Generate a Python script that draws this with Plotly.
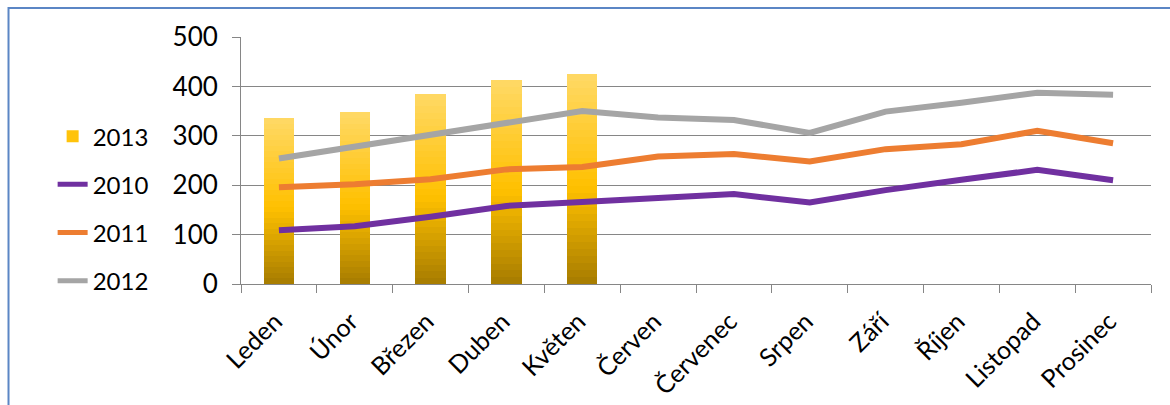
import plotly.graph_objects as go

months = ["Leden", "Únor", "Březen", "Duben", "Květen", "Červen",
          "Červenec", "Srpen", "Září", "Říjen", "Listopad", "Prosinec"]
y2013 = [336, 348, 385, 413, 425]
y2010 = [109, 117, 136, 158, 166, 175, 182, 165, 190, 211, 231, 210]
y2011 = [196, 202, 212, 232, 237, 258, 263, 248, 273, 283, 310, 285]
y2012 = [254, 278, 300, 327, 350, 337, 332, 306, 349, 367, 387, 383]
yticks = [0, 100, 200, 300, 400, 500]

FONT = "Lato, 'Liberation Sans', sans-serif"
GRID = "#868686"

# gradient stops for the bar fill (fraction from bottom, rgb)
stops = [(0.0, (166, 124, 0)), (0.46, (255, 192, 0)), (1.0, (255, 217, 102))]


def grad_color(f):
    for (f0, c0), (f1, c1) in zip(stops[:-1], stops[1:]):
        if f0 <= f <= f1:
            t = (f - f0) / (f1 - f0)
            c = [round(a + (b - a) * t) for a, b in zip(c0, c1)]
            return "rgb(%d,%d,%d)" % tuple(c)
    return "rgb(%d,%d,%d)" % stops[-1][1]


fig = go.Figure()

N = 30
bar_x = months[:len(y2013)]
for i in range(N):
    f = (i + 0.5) / N
    fig.add_trace(go.Bar(
        x=bar_x, y=[v / N for v in y2013], name="2013",
        marker=dict(color=grad_color(f), line=dict(width=0)),
        legendgroup="2013", showlegend=(i == N // 2), legendrank=1,
        hoverinfo="skip",
    ))

for name, ys, col, rank in [("2010", y2010, "#7030a0", 2),
                            ("2011", y2011, "#ed7d31", 3),
                            ("2012", y2012, "#a5a5a5", 4)]:
    fig.add_trace(go.Scatter(
        x=months, y=ys, name=name, mode="lines",
        line=dict(color=col, width=6),
        legendgroup=name, legendrank=rank,
    ))

fig.update_layout(
    width=1170, height=405,
    margin=dict(l=241, r=19, t=37, b=121, autoexpand=False),
    paper_bgcolor="white", plot_bgcolor="white",
    barmode="stack", bargap=0.6,
    font=dict(family=FONT, size=24, color="#000000"),
    legend=dict(x=-0.207, xanchor="left", y=0.688, yanchor="top",
                font=dict(size=24, family=FONT), tracegroupgap=14,
                bgcolor="rgba(0,0,0,0)", itemsizing="constant"),
    xaxis=dict(type="category", categoryorder="array", categoryarray=months,
               range=[-0.5, len(months) - 0.5],
               tickangle=-45, showline=True,
               linecolor=GRID, linewidth=1, ticks="outside",
               tickson="boundaries", ticklen=8, tickcolor=GRID,
               showgrid=False, automargin=False,
               ticklabelstandoff=12, ticklabelshift=-4,
               tickfont=dict(size=25, family=FONT)),
    yaxis=dict(range=[0, 500], tickvals=yticks, showline=True,
               linecolor=GRID, linewidth=1, ticks="outside", ticklen=8,
               tickcolor=GRID, gridcolor=GRID, gridwidth=1,
               ticklabelstandoff=9, automargin=False,
               zeroline=False, tickfont=dict(size=26, family=FONT)),
    shapes=[dict(type="rect", xref="paper", yref="paper",
                 x0=(8 - 241) / 912, x1=1.3, y0=-1.0, y1=(284 - 8) / 247,
                 line=dict(color="#5b86c5", width=2), layer="below")],
)

fig.write_html("out.html")
